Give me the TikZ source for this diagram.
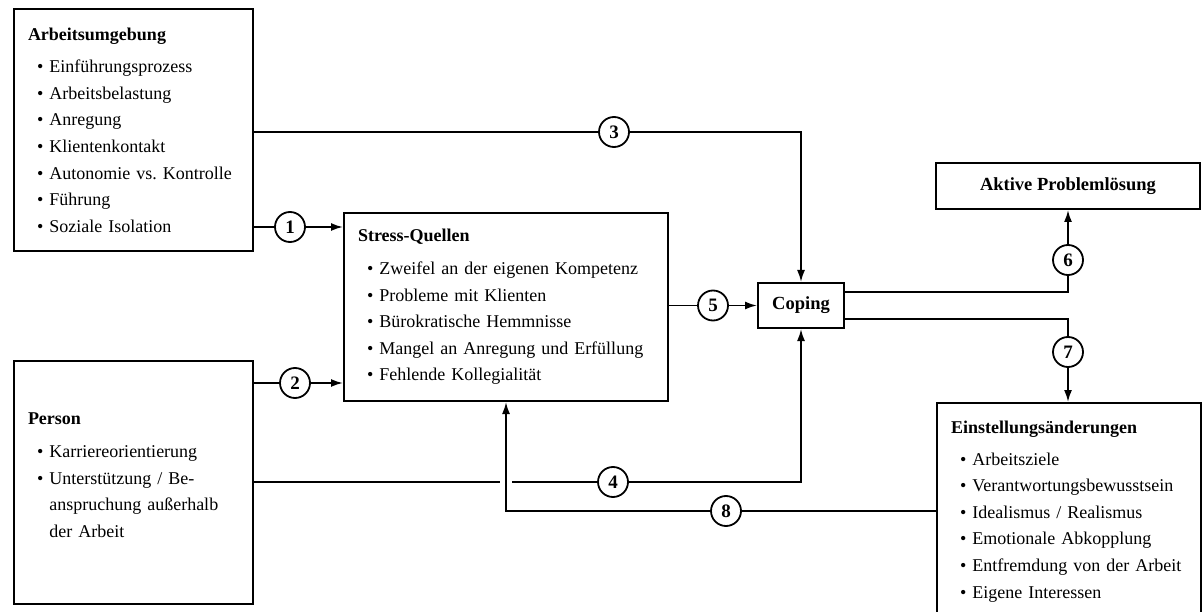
\documentclass[tikz,border=0pt]{standalone}
\usepackage{fontspec}
\setmainfont{Liberation Serif}
\usetikzlibrary{arrows.meta,positioning}

\newcommand{\punkt}[1]{\hspace*{9pt}\textbullet\ #1}
\newcommand{\weiter}[1]{\hspace*{9pt}\phantom{\textbullet\ }#1}

\begin{document}
\begin{tikzpicture}[x=1pt,y=-1pt]
\tikzstyle{line} 	= [line width = 1.8pt] % standard connector
\tikzstyle{arrow} 	= [line width = 1.8pt, -{Latex[length=12pt, width=8pt]}] % connector with arrow head
\tikzstyle{num} 	= [draw, shape = circle, line width = 1.8pt, minimum size = 30pt, inner sep = 0pt, font = \fontsize{19pt}{20pt}\selectfont\bfseries] % numbered circle
\tikzstyle{listbox}	= [draw, rectangle, line width = 2pt, anchor = north west, inner xsep = 14pt, align = left, font = \fontsize{18pt}{26.6pt}\selectfont] % box with title and bullet list
\tikzstyle{block} 	= [draw, rectangle, line width = 2pt, align = center, font = \fontsize{18.5pt}{22pt}\selectfont\bfseries] % box with one bold word

\useasboundingbox (0,0) rectangle (1202,612);

% define the boxes with lists
\node(AU)[listbox, text width = 211pt, minimum height = 242pt] at (13,8){\textbf{Arbeitsumgebung}\\[6pt]
	\punkt{Einführungsprozess}\\ \punkt{Arbeitsbelastung}\\ \punkt{Anregung}\\ \punkt{Klientenkontakt}\\
	\punkt{Autonomie vs.\ Kontrolle}\\ \punkt{Führung}\\ \punkt{Soziale Isolation}};
\node(PE)[listbox, text width = 211pt, minimum height = 243pt] at (13,360){\textbf{Person}\\[6pt]
	\punkt{Karriereorientierung}\\ \punkt{Unterstützung / Be-}\\ \weiter{anspruchung außerhalb}\\ \weiter{der Arbeit}\\[-12pt]\mbox{}};
\node(SQ)[listbox, text width = 296pt, minimum height = 188pt] at (343,212){\textbf{Stress-Quellen}\\[6pt]
	\punkt{Zweifel an der eigenen Kompetenz}\\ \punkt{Probleme mit Klienten}\\ \punkt{Bürokratische Hemmnisse}\\
	\punkt{Mangel an Anregung und Erfüllung}\\ \punkt{Fehlende Kollegialität}};
\node(EA)[listbox, text width = 236pt, inner ysep = 18pt] at (936,402){\textbf{Einstellungsänderungen}\\[5pt]
	\punkt{Arbeitsziele}\\ \punkt{Verantwortungsbewusstsein}\\ \punkt{Idealismus / Realismus}\\
	\punkt{Emotionale Abkopplung}\\ \punkt{Entfremdung von der Arbeit}\\ \punkt{Eigene Interessen}\\[2pt]\mbox{}};

% coping and its outcome
\node(CO)[block, minimum width = 86pt, minimum height = 45pt] at (801,305.5){Coping};
\node(AP)[block, minimum width = 264pt, minimum height = 46pt] at (1068,186){Aktive Problemlösung};

% numbered circles
\node(c1)[num] at (290,227){1};
\node(c2)[num] at (295,383){2};
\node(c3)[num] at (614,132){3};
\node(c4)[num] at (613,482){4};
\node(c5)[num] at (713,305.5){5};
\node(c6)[num] at (1068,260){6};
\node(c7)[num] at (1068,352){7};
\node(c8)[num] at (726,511){8};
\coordinate(g8) at (506,511);

% connectors
\draw[line] (AU.east |- c1) -- (c1);
\draw[arrow] (c1) -- (SQ.west |- c1);
\draw[line] (PE.east |- c2) -- (c2);
\draw[arrow] (c2) -- (SQ.west |- c2);
\draw[line] (AU.east |- c3) -- (c3);
\draw[arrow] (c3) -| (CO.north);
\draw[line] (PE.east |- c4) -- ([xshift=-6pt]g8 |- c4);
\draw[line] ([xshift=6pt]g8 |- c4) -- (c4);
\draw[arrow] (c4) -| (CO.south);
\draw[line] (SQ.east |- c5) -- (c5);
\draw[arrow] (c5) -- (CO.west);
\draw[line] ([yshift=13.5pt]CO.east) -| (c6);
\draw[arrow] (c6) -- (AP.south -| c6);
\draw[line] ([yshift=-13.5pt]CO.east) -| (c7);
\draw[arrow] (c7) -- (EA.north -| c7);
\draw[line] (EA.west |- c8) -- (c8);
\draw[arrow] (c8) -- (g8) -- (SQ.south -| g8);
\end{tikzpicture}
\end{document}
